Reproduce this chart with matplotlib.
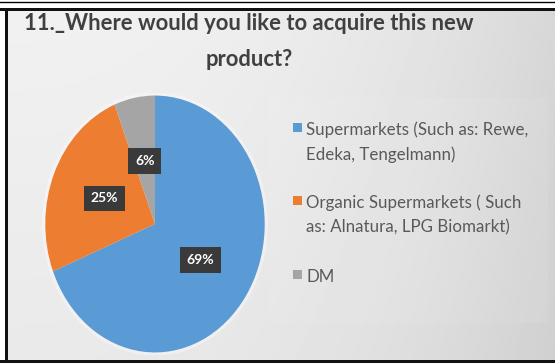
import numpy as np
import matplotlib
matplotlib.use("Agg")
import matplotlib.pyplot as plt
from matplotlib.patches import Rectangle, Ellipse

# survey answers, question 11
categories = ["Supermarkets (Such as: Rewe,\nEdeka, Tengelmann)",
              "Organic Supermarkets ( Such\nas: Alnatura, LPG Biomarkt)",
              "DM"]
shares = [69, 25, 6]
colors = ["#5b9bd5", "#ed7d31", "#a5a5a5"]
title_lines = ["11._Where would you like to acquire this new", "product?"]

W, H = 555, 363
fig = plt.figure(figsize=(W / 100, H / 100), dpi=100)

# background: soft grey gradient, darker towards the right
bg = fig.add_axes([0, 0, 1, 1])
gx = np.linspace(0, 1, 300)
gy = np.linspace(0, 1, 200)
X, Y = np.meshgrid(gx, gy)
shade = 0.945 - 0.10 * X ** 2.5 - 0.03 * Y
bg.imshow(shade, cmap="gray", vmin=0, vmax=1, extent=[0, W, H, 0], aspect="auto")
bg.set_xlim(0, W)
bg.set_ylim(H, 0)
bg.axis("off")

# faint lighter panel behind the legend
bg.add_patch(Rectangle((268, 98), 280, 225, facecolor="white", alpha=0.07,
                       edgecolor="none"))

# outer frame lines
bg.add_patch(Rectangle((0, 0), W, 8, facecolor="white", edgecolor="none"))
bg.add_patch(Rectangle((0, 0), 4.5, H, facecolor="white", edgecolor="none"))
bg.plot([0, W], [1.5, 1.5], color="black", lw=1.0)
bg.add_patch(Rectangle((0, 7.5), W, 3, facecolor="#111111", edgecolor="none"))
bg.add_patch(Rectangle((4.5, 7.5), 3, H, facecolor="#111111", edgecolor="none"))
bg.add_patch(Rectangle((0, H - 3), W, 3, facecolor="#111111", edgecolor="none"))

# title, two lines
for k, line in enumerate(title_lines):
    bg.text(249, 24 + 35 * k, line, ha="center", va="center", fontsize=15.8,
            fontweight="bold", color="#404040", family="Lato")

# pie (stretched vertically)
ax = fig.add_axes([42 / W, 8 / H, 226 / W, 262 / H])
ax.add_patch(Ellipse((0, 0), 2.06, 2.05, facecolor="white", alpha=0.35,
                     edgecolor="none"))
wedges, texts, autotexts = ax.pie(
    shares, colors=colors, startangle=90, counterclock=False,
    autopct="%.0f%%", pctdistance=0.5,
    wedgeprops=dict(edgecolor="none"),
    textprops=dict(color="white", fontsize=10, fontweight="bold", family="Lato"))
for t in autotexts:
    t.set_bbox(dict(boxstyle="square,pad=0.5", facecolor="#3a3a3a",
                    edgecolor="none"))
ax.set_aspect("auto")
ax.set_xlim(-1.03, 1.03)
ax.set_ylim(-1.02, 1.02)
ax.axis("off")

# legend, markers line up with the first line of each label
entry_y = [128, 201, 275]
for label, col, y0 in zip(categories, colors, entry_y):
    bg.add_patch(Rectangle((293, y0 - 5), 9, 9, facecolor=col, edgecolor="none"))
    for k, line in enumerate(label.split("\n")):
        bg.text(306, y0 + 25 * k, line, ha="left", va="center_baseline",
                fontsize=12.2, color="#595959", family="Lato")

fig.savefig("out.png", dpi=100)
